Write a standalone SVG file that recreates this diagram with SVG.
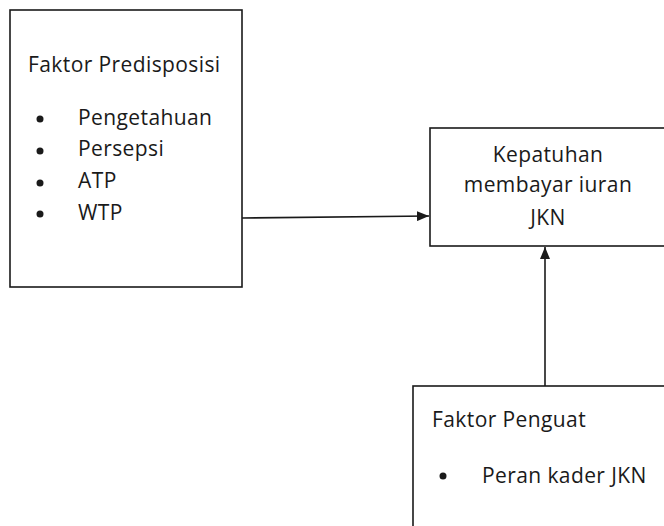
<svg xmlns="http://www.w3.org/2000/svg" width="664" height="526" viewBox="0 0 664 526">
<defs>
<style>
.box{fill:#fff;stroke:#1a1a1a;stroke-width:1.6}
.t{font-family:"Open Sans","Noto Sans","Liberation Sans",sans-serif;font-size:21px;letter-spacing:0.4px;fill:#1a1a1a}
.c{text-anchor:middle}
.ln{stroke:#1a1a1a;stroke-width:1.6;fill:none}
</style>
<marker id="ah" viewBox="0 0 12 10" refX="12" refY="5" markerWidth="12" markerHeight="10" markerUnits="userSpaceOnUse" orient="auto">
<path d="M0,0 L12,5 L0,10 Z" fill="#1a1a1a"/>
</marker>
</defs>
<rect width="664" height="526" fill="#fff"/>
<g id="predisposisi">
<rect class="box" x="10" y="10" width="232" height="277"/>
<text class="t" x="28" y="72">Faktor Predisposisi</text>
<circle cx="40" cy="119" r="3.5" fill="#1a1a1a"/>
<circle cx="40" cy="151" r="3.5" fill="#1a1a1a"/>
<circle cx="40" cy="183" r="3.5" fill="#1a1a1a"/>
<circle cx="40" cy="214" r="3.5" fill="#1a1a1a"/>
<text class="t" x="78" y="125">Pengetahuan</text>
<text class="t" x="78" y="156">Persepsi</text>
<text class="t" x="78" y="188">ATP</text>
<text class="t" x="78" y="220">WTP</text>
</g>
<g id="kepatuhan">
<rect class="box" x="430" y="128" width="250" height="118"/>
<text class="t c" x="548" y="162">Kepatuhan</text>
<text class="t c" x="548" y="192">membayar iuran</text>
<text class="t c" x="548" y="225">JKN</text>
</g>
<g id="penguat">
<rect class="box" x="413" y="386" width="267" height="160"/>
<text class="t" x="432" y="427">Faktor Penguat</text>
<circle cx="443" cy="476" r="3.5" fill="#1a1a1a"/>
<text class="t" x="482" y="483">Peran kader JKN</text>
</g>
<g id="connectors">
<line class="ln" x1="242" y1="218" x2="429" y2="216" marker-end="url(#ah)"/>
<line class="ln" x1="545" y1="386" x2="545" y2="247" marker-end="url(#ah)"/>
</g>
</svg>
